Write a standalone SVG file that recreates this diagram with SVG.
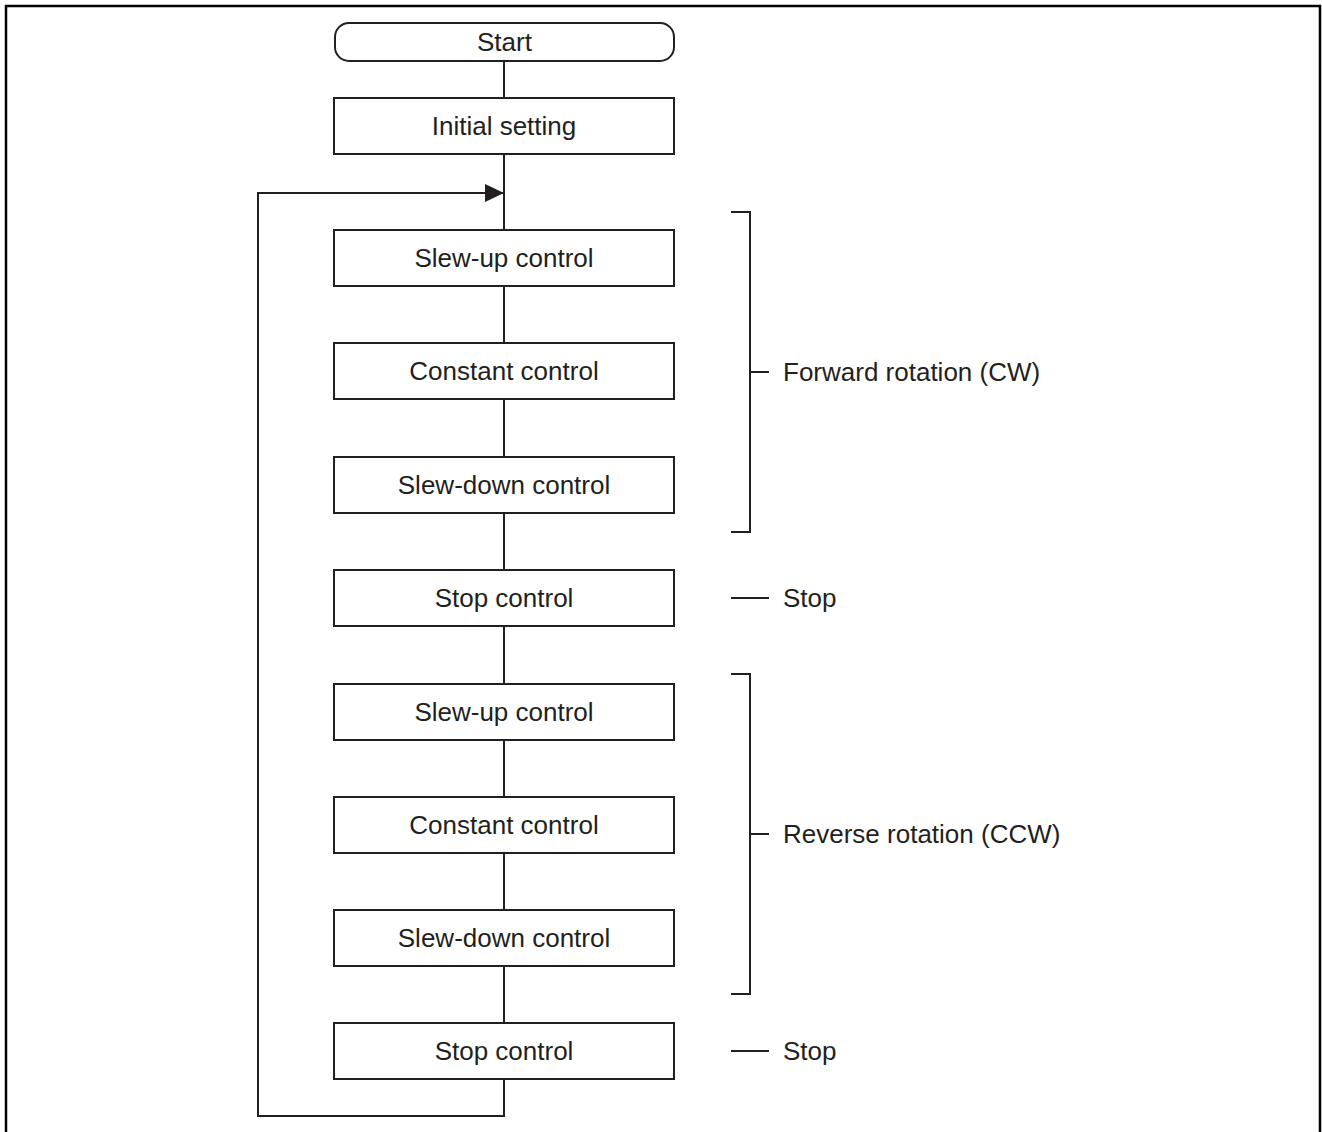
<svg xmlns="http://www.w3.org/2000/svg" width="1322" height="1132" viewBox="0 0 1322 1132">
  <style>
    .box { fill: #fff; stroke: #231f20; stroke-width: 2; }
    .ln { fill: none; stroke: #231f20; stroke-width: 2; }
    .lbl { font-family: "Liberation Sans", Arial, sans-serif; font-size: 26px; fill: #231f20; }
    .c { text-anchor: middle; }
  </style>
  <defs>
    <marker id="arrow" markerWidth="19" markerHeight="18" refX="19" refY="9" orient="auto" markerUnits="userSpaceOnUse">
      <path d="M0,0 L19,9 L0,18 Z" fill="#231f20"/>
    </marker>
  </defs>
  <rect width="1322" height="1132" fill="#fff"/>
  <!-- frame -->
  <path d="M6,1132 V6 H1320 V1132" fill="none" stroke="#000" stroke-width="2.5"/>

  <!-- connectors -->
  <g id="connectors">
    <line class="ln" x1="504" y1="61" x2="504" y2="98"/>
    <line class="ln" x1="504" y1="154" x2="504" y2="230"/>
    <line class="ln" x1="504" y1="286" x2="504" y2="343"/>
    <line class="ln" x1="504" y1="399" x2="504" y2="457"/>
    <line class="ln" x1="504" y1="513" x2="504" y2="570"/>
    <line class="ln" x1="504" y1="626" x2="504" y2="684"/>
    <line class="ln" x1="504" y1="740" x2="504" y2="797"/>
    <line class="ln" x1="504" y1="853" x2="504" y2="910"/>
    <line class="ln" x1="504" y1="966" x2="504" y2="1023"/>
    <path class="ln" d="M504,1079 V1116 H258 V193 H504" marker-end="url(#arrow)"/>
    <!-- brackets and annotations -->
    <path class="ln" d="M731,212 H750 V532 H731"/>
    <line class="ln" x1="750" y1="372" x2="769" y2="372"/>
    <path class="ln" d="M731,674 H750 V994 H731"/>
    <line class="ln" x1="750" y1="834" x2="769" y2="834"/>
    <line class="ln" x1="731" y1="598" x2="769" y2="598"/>
    <line class="ln" x1="731" y1="1051" x2="769" y2="1051"/>
  </g>

  <g id="start">
    <rect class="box" x="335" y="23" width="339" height="38" rx="14" ry="14"/>
    <text class="lbl c" x="504.5" y="51">Start</text>
  </g>
  <g id="initial">
    <rect class="box" x="334" y="98" width="340" height="56"/>
    <text class="lbl c" x="504" y="135">Initial setting</text>
  </g>
  <g id="slewup1">
    <rect class="box" x="334" y="230" width="340" height="56"/>
    <text class="lbl c" x="504" y="267">Slew-up control</text>
  </g>
  <g id="constant1">
    <rect class="box" x="334" y="343" width="340" height="56"/>
    <text class="lbl c" x="504" y="380">Constant control</text>
  </g>
  <g id="slewdown1">
    <rect class="box" x="334" y="457" width="340" height="56"/>
    <text class="lbl c" x="504" y="494">Slew-down control</text>
  </g>
  <g id="stop1">
    <rect class="box" x="334" y="570" width="340" height="56"/>
    <text class="lbl c" x="504" y="607">Stop control</text>
  </g>
  <g id="slewup2">
    <rect class="box" x="334" y="684" width="340" height="56"/>
    <text class="lbl c" x="504" y="721">Slew-up control</text>
  </g>
  <g id="constant2">
    <rect class="box" x="334" y="797" width="340" height="56"/>
    <text class="lbl c" x="504" y="834">Constant control</text>
  </g>
  <g id="slewdown2">
    <rect class="box" x="334" y="910" width="340" height="56"/>
    <text class="lbl c" x="504" y="947">Slew-down control</text>
  </g>
  <g id="stop2">
    <rect class="box" x="334" y="1023" width="340" height="56"/>
    <text class="lbl c" x="504" y="1060">Stop control</text>
  </g>

  <g id="labels">
    <text class="lbl" x="783" y="381">Forward rotation (CW)</text>
    <text class="lbl" x="783" y="607">Stop</text>
    <text class="lbl" x="783" y="843">Reverse rotation (CCW)</text>
    <text class="lbl" x="783" y="1060">Stop</text>
  </g>
</svg>
